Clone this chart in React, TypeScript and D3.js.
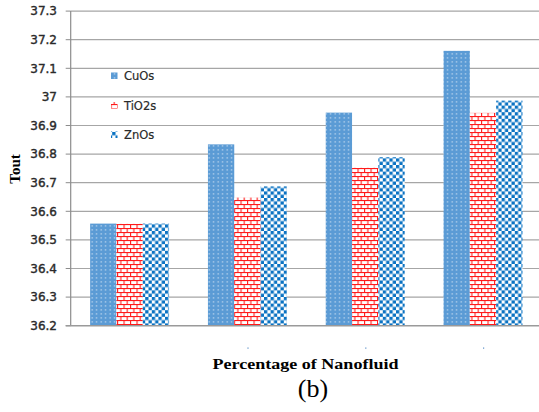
import React from "react";
import * as d3 from "d3";

const categories = ["0", "1", "2", "3"];
const seriesNames = ["CuOs", "TiO2s", "ZnOs"];
const cuoValues = [36.557, 36.834, 36.945, 37.161];
const tio2Values = [36.556, 36.648, 36.752, 36.944];
const znoValues = [36.557, 36.687, 36.789, 36.987];
const yTicks = [36.2, 36.3, 36.4, 36.5, 36.6, 36.7, 36.8, 36.9, 37, 37.1, 37.2, 37.3];
const yTickLabels = ["36.2", "36.3", "36.4", "36.5", "36.6", "36.7", "36.8", "36.9", "37", "37.1", "37.2", "37.3"];

const W = 539;
const H = 412;
const left = 70.7;
const right = 541.9;
const top = 11.1;
const bottom = 325.7;

export default function App() {
  const x = d3
    .scaleBand<string>()
    .domain(categories)
    .range([left, right])
    .paddingInner(0.33)
    .paddingOuter(0.165);
  const xs = d3.scaleBand<string>().domain(seriesNames).range([0, x.bandwidth()]).padding(0);
  const y = d3.scaleLinear().domain([36.2, 37.3]).range([bottom, top]);

  const series = [
    { name: "CuOs", values: cuoValues, fill: "url(#patCu)" },
    { name: "TiO2s", values: tio2Values, fill: "url(#patTi)" },
    { name: "ZnOs", values: znoValues, fill: "url(#patZn)" },
  ];

  const legendY = [76, 105.5, 135];

  return (
    <svg
      width={W}
      height={H}
      style={{ position: "absolute", left: 0, top: 0, background: "#fff" }}
    >
      <defs>
        <pattern id="patCu" patternUnits="userSpaceOnUse" width={4.5} height={4} x={0} y={0}>
          <rect width={4.5} height={4} fill="#5b9bd5" />
          <rect x={1.5} y={1.3} width={1.3} height={1.2} fill="#e4eef8" opacity={0.8} />
        </pattern>
        <pattern id="patTi" patternUnits="userSpaceOnUse" width={6.5} height={8} x={0} y={0}>
          <rect width={6.5} height={8} fill="#fff" />
          <rect x={0} y={0} width={6.5} height={1.1} fill="#ff1a1a" />
          <rect x={0} y={4} width={6.5} height={1.1} fill="#ff1a1a" />
          <rect x={0} y={0} width={1.1} height={4} fill="#ff1a1a" />
          <rect x={3.25} y={4} width={1.1} height={4} fill="#ff1a1a" />
        </pattern>
        <pattern id="patZn" patternUnits="userSpaceOnUse" width={6.6} height={6.6} x={0} y={0}>
          <rect width={6.6} height={6.6} fill="#fff" />
          <rect x={0} y={0} width={3.3} height={3.3} fill="#0a72c2" />
          <rect x={3.3} y={3.3} width={3.3} height={3.3} fill="#0a72c2" />
        </pattern>
      </defs>

      {/* gridlines */}
      {yTicks.map((t, i) =>
        i === 0 ? null : (
          <line key={"g" + i} x1={left} x2={W} y1={y(t)} y2={y(t)} stroke="#a6a6a6" strokeWidth={1.2} />
        )
      )}
      {/* y tick marks */}
      {yTicks.map((t, i) => (
        <line key={"t" + i} x1={left - 5} x2={left} y1={y(t)} y2={y(t)} stroke="#8c8c8c" strokeWidth={1} />
      ))}
      {/* y labels */}
      {yTicks.map((t, i) => (
        <text
          key={"l" + i}
          x={57}
          y={y(t)}
          dy="0.36em"
          textAnchor="end"
          fontFamily="DejaVu Sans"
          fontSize={12}
          fill="#2a2a2a"
          stroke="#2a2a2a"
          strokeWidth={0.4}
        >
          {yTickLabels[i]}
        </text>
      ))}

      {/* bars */}
      {series.map((s) =>
        s.values.map((v, i) => {
          const bx = (x(categories[i]) as number) + (xs(s.name) as number);
          return (
            <rect
              key={s.name + i}
              x={bx}
              y={y(v)}
              width={xs.bandwidth()}
              height={bottom - y(v)}
              fill={s.fill}
            />
          );
        })
      )}

      {/* axes */}
      <line x1={left} x2={left} y1={top} y2={bottom} stroke="#8c8c8c" strokeWidth={1.2} />
      <line x1={left - 5} x2={W} y1={bottom} y2={bottom} stroke="#9a9a9a" strokeWidth={1.5} />

      {/* tiny category marks */}
      {categories.map((c, i) =>
        i === 0 ? null : (
          <rect
            key={"c" + c}
            x={(x(c) as number) + x.bandwidth() / 2}
            y={347.5}
            width={1.2}
            height={1.2}
            fill="#5b8fc8"
          />
        )
      )}

      {/* legend */}
      {series.map((s, i) => (
        <g key={"lg" + s.name}>
          <rect x={111} y={legendY[i] - 3.5} width={6.5} height={6.5} fill={s.fill} />
          <text
            x={124}
            y={legendY[i]}
            dy="0.36em"
            fontFamily="DejaVu Sans"
            fontSize={11.5}
            fill="#2a2a2a"
            stroke="#2a2a2a"
            strokeWidth={0.2}
          >
            {s.name}
          </text>
        </g>
      ))}

      {/* axis titles */}
      <text
        transform="translate(19.5,169) rotate(-90)"
        textAnchor="middle"
        fontFamily="Liberation Serif"
        fontWeight="bold"
        fontSize={15}
        fill="#000"
      >
        Tout
      </text>
      <text
        x={305.5}
        y={369}
        textAnchor="middle"
        fontFamily="Liberation Serif"
        fontWeight="bold"
        fontSize={15.5}
        textLength={186}
        lengthAdjust="spacingAndGlyphs"
        fill="#000"
      >
        Percentage of Nanofluid
      </text>
      <text
        x={313}
        y={397}
        textAnchor="middle"
        fontFamily="Liberation Serif"
        fontSize={26}
        fill="#000"
      >
        (b)
      </text>
    </svg>
  );
}
